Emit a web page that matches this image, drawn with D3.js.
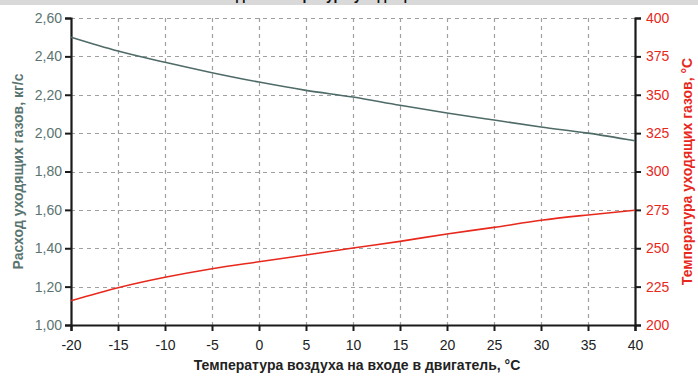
<!DOCTYPE html>
<html><head><meta charset="utf-8">
<script src="https://cdn.jsdelivr.net/npm/d3@7"></script>
<style>html,body{margin:0;padding:0;background:#fff;}svg{display:block;font-family:"Liberation Sans",Arial,sans-serif;}</style>
</head><body><svg id="c" width="698" height="376"></svg>
<script>
const temps = [-20,-15,-10,-5,0,5,10,15,20,25,30,35,40];
const flow = [2.50,2.428,2.369,2.315,2.266,2.223,2.188,2.145,2.105,2.068,2.032,2.0,1.96];
const gasTemp = [215.8,224.3,231.1,236.7,241.2,245.6,250.2,254.5,259.3,263.6,268.2,271.7,274.8];
const leftTicks = [1.0,1.2,1.4,1.6,1.8,2.0,2.2,2.4,2.6];
const rightTicks = [200,225,250,275,300,325,350,375,400];
const xTicks = [-20,-15,-10,-5,0,5,10,15,20,25,30,35,40];
const title = "Расход и температура уходящих газов";
const xTitle = "Температура воздуха на входе в двигатель, °С";
const yLeftTitle = "Расход уходящих газов, кг/с";
const yRightTitle = "Температура уходящих газов, °С";

const svg = d3.select("#c");
const L=71, R=635, T=18, B=325;
const x = d3.scaleLinear().domain([-20,40]).range([L,R]);
const yL = d3.scaleLinear().domain([1.0,2.6]).range([B,T]);
const yR = d3.scaleLinear().domain([200,400]).range([B,T]);
const gray="#4e6b67", red="#e8281c";

// top banner with clipped title
svg.append("rect").attr("x",0).attr("y",0).attr("width",698).attr("height",5).attr("fill","#d9d9d9");
svg.append("text").attr("x",330).attr("y",0).attr("text-anchor","middle").attr("font-weight","bold").attr("font-size",14).attr("fill","#111").text(title);

// grid
const grid = svg.append("g").attr("stroke","#a0a0a0").attr("stroke-width",1.2).attr("stroke-dasharray","4,4");
leftTicks.slice(1).forEach(v=>grid.append("line").attr("x1",L).attr("x2",R).attr("y1",Math.round(yL(v))+0.5).attr("y2",Math.round(yL(v))+0.5));
xTicks.slice(1,-1).forEach(v=>grid.append("line").attr("x1",Math.round(x(v))+0.5).attr("x2",Math.round(x(v))+0.5).attr("y1",T).attr("y2",B));

// axes
const fmt = d=>d3.format(".2f")(d).replace(".",",");
const ax = svg.append("g").attr("transform",`translate(0,${B})`).call(d3.axisBottom(x).tickValues(xTicks).tickSize(6).tickPadding(9).tickFormat(d=>d));
const al = svg.append("g").attr("transform",`translate(${L},0)`).call(d3.axisLeft(yL).tickValues(leftTicks).tickSize(6).tickPadding(3).tickFormat(fmt));
const ar = svg.append("g").attr("transform",`translate(${R},0)`).call(d3.axisRight(yR).tickValues(rightTicks).tickSize(6).tickPadding(5).tickFormat(d=>d));
[ax,al,ar].forEach(g=>{g.select(".domain").attr("stroke","#1a1a1a").attr("stroke-width",2.2);g.selectAll(".tick line").attr("stroke","#1a1a1a").attr("stroke-width",2);g.selectAll("text").attr("font-size",14).attr("font-family","Liberation Sans, Arial, sans-serif");});
ax.selectAll("text").attr("fill","#222");
al.selectAll("text").attr("fill","#5a7470");
ar.selectAll("text").attr("fill",red);

// lines
const lineL = d3.line().x((d,i)=>x(temps[i])).y(d=>yL(d)).curve(d3.curveMonotoneX);
const lineR = d3.line().x((d,i)=>x(temps[i])).y(d=>yR(d)).curve(d3.curveMonotoneX);
svg.append("path").attr("d",lineL(flow)).attr("fill","none").attr("stroke",gray).attr("stroke-width",1.6);
svg.append("path").attr("d",lineR(gasTemp)).attr("fill","none").attr("stroke",red).attr("stroke-width",1.6);

// titles
svg.append("text").attr("x",(L+R)/2+4).attr("y",370).attr("text-anchor","middle").attr("font-weight","bold").attr("font-size",14).attr("fill","#222").text(xTitle);
svg.append("text").attr("transform",`translate(23,${(T+B)/2}) rotate(-90)`).attr("text-anchor","middle").attr("font-weight","bold").attr("font-size",14).attr("fill","#5a7470").text(yLeftTitle);
svg.append("text").attr("transform",`translate(692,${(T+B)/2}) rotate(-90)`).attr("text-anchor","middle").attr("font-weight","bold").attr("font-size",14).attr("fill",red).text(yRightTitle);
</script></body></html>
